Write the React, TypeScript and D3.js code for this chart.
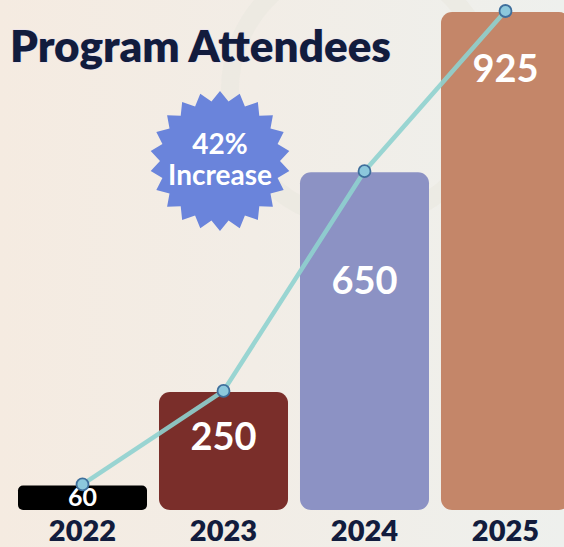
import React from "react";
import * as d3 from "d3";

const years = ["2022", "2023", "2024", "2025"];
const attendees = [60, 250, 650, 925];
const barColors = ["#000000", "#7a2e2a", "#8c92c4", "#c48669"];
const labelSizes = [25, 38, 38, 38];
const labelDy = [21, 58, 122, 70];
const title = "Program Attendees";
const badgeLines = ["42%", "Increase"];

const W = 564;
const H = 547;
const FONT = "Lato, 'Open Sans', sans-serif";

export default function App() {
  const x = d3.scaleBand<string>().domain(years).range([18, 570]).paddingInner(0.085).paddingOuter(0);
  const base = 510;
  const y = d3.scalePow().exponent(1.1).domain([0, 925]).range([base, 12]);

  const pts: [number, number][] = years.map((yr, i) => [x(yr)! + x.bandwidth() / 2, y(attendees[i]) - 1]);
  const line = d3.line()(pts) || "";

  const n = 22;
  const rO = 70, rI = 60;
  const star = d3.lineRadial<number>()
    .angle((d) => (d * Math.PI) / n)
    .radius((d) => (d % 2 === 0 ? rO : rI))
    .curve(d3.curveLinearClosed)(d3.range(2 * n)) || "";

  return (
    <svg width={W} height={H} style={{ position: "absolute", left: 0, top: 0 }} fontFamily={FONT}>
      <defs>
        <linearGradient id="bg" x1="0" x2="1" y1="0" y2="0">
          <stop offset="0" stopColor="#f5ebe1" />
          <stop offset="0.45" stopColor="#f2ede6" />
          <stop offset="1" stopColor="#eef0ed" />
        </linearGradient>
      </defs>
      <rect width={W} height={H} fill="url(#bg)" />
      <circle cx={360} cy={90} r={130} fill="none" stroke="#e9e7e0" strokeWidth={18} opacity={0.6} />

      {years.map((yr, i) => (
        <rect key={yr} x={x(yr)} y={y(attendees[i])} width={x.bandwidth()} height={base - y(attendees[i])}
          rx={i === 0 ? 5 : 11} fill={barColors[i]} />
      ))}

      <text x={10} y={62} fontSize={44} fontWeight={800} fill="#121c3d"
        style={{ paintOrder: "stroke" }} stroke="#e6dff0" strokeWidth={1}>{title}</text>

      <g transform="translate(220,161)">
        <path d={star} fill="#6a84db" />
        <text y={-7} textAnchor="middle" fontSize={28} fontWeight={700} fill="#fff">{badgeLines[0]}</text>
        <text y={24} textAnchor="middle" fontSize={28} fontWeight={700} fill="#fff">{badgeLines[1]}</text>
      </g>

      {years.map((yr, i) => (
        <text key={"l" + yr} x={x(yr)! + x.bandwidth() / 2} y={y(attendees[i]) + labelDy[i]} textAnchor="middle"
          fontSize={labelSizes[i]} fontWeight={700} fill="#fff">{attendees[i]}</text>
      ))}

      <path d={line} fill="none" stroke="#8fd2cf" strokeWidth={4.5} opacity={0.9} />
      {pts.map((p, i) => (
        <circle key={"p" + i} cx={p[0]} cy={p[1]} r={6} fill="#8cc8dc" stroke="#3f6f9c" strokeWidth={1.8} />
      ))}

      {years.map((yr) => (
        <text key={"y" + yr} x={x(yr)! + x.bandwidth() / 2} y={541} textAnchor="middle" fontSize={29}
          fontWeight={800} fill="#121c3d">{yr}</text>
      ))}
    </svg>
  );
}
